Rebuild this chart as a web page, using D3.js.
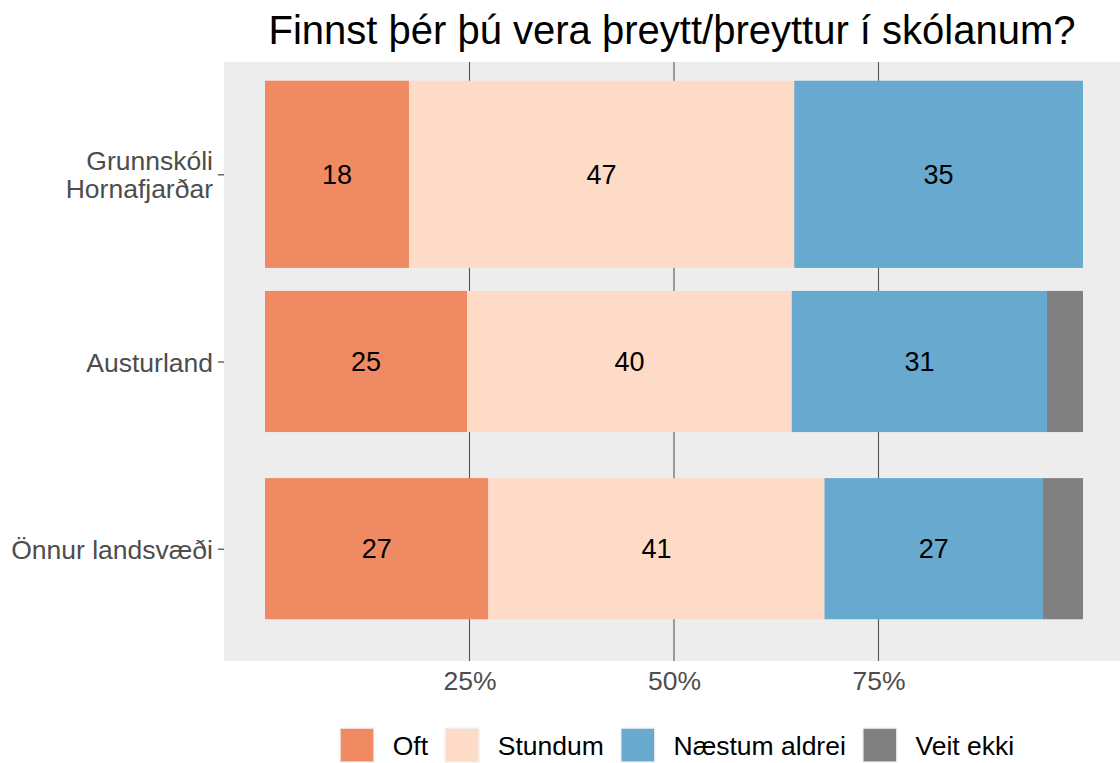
<!DOCTYPE html>
<html><head><meta charset="utf-8">
<script src="https://cdn.jsdelivr.net/npm/d3@7"></script>
<style>
body{margin:0;background:#fff}
svg{display:block}
text{font-family:"Liberation Sans",Arial,Helvetica,sans-serif}
</style>
</head><body>
<svg id="chart" width="1120" height="763"></svg>
<script>
// ---- data ----
const title = "Finnst þér þú vera þreytt/þreyttur í skólanum?";
const categories = ["Grunnskóli\nHornafjarðar", "Austurland", "Önnur landsvæði"];
const seriesNames = ["Oft", "Stundum", "Næstum aldrei", "Veit ekki"];
const oft      = [17.6, 24.7, 27.3];
const stundum  = [47.1, 39.7, 41.1];
const naestum  = [35.3, 31.2, 26.7];
const veitEkki = [0.0, 4.4, 4.9];
const barWidths = [1.0, 0.754, 0.754];
const xTicks = [25, 50, 75];
const xTickLabels = ["25%", "50%", "75%"];
const colors = ["#EF8A62", "#FDDBC7", "#67A9CF", "#808080"];

// ---- build table ----
const keys = seriesNames;
const table = categories.map((c, i) => ({
  cat: c, idx: i + 1, w: barWidths[i],
  "Oft": oft[i], "Stundum": stundum[i], "Næstum aldrei": naestum[i], "Veit ekki": veitEkki[i]
}));

const svg = d3.select("#chart");
const P = {x0: 224, x1: 1120, y0: 62, y1: 661};

const x = d3.scaleLinear().domain([0, 100]).range([265, 1083]);
const y = d3.scaleLinear().domain([0.4, 3.6]).range([P.y0, P.y1]);
const color = d3.scaleOrdinal().domain(keys).range(colors);

// panel
svg.append("rect").attr("x", P.x0).attr("y", P.y0)
  .attr("width", P.x1 - P.x0).attr("height", P.y1 - P.y0).attr("fill", "#EDEDED");

// grid
svg.append("g").selectAll("line").data(xTicks).join("line")
  .attr("x1", d => x(d)).attr("x2", d => x(d))
  .attr("y1", P.y0).attr("y2", P.y1)
  .attr("stroke", "#555555").attr("stroke-width", 1.1);

// stacked bars
const stacked = d3.stack().keys(keys)(table);
const gBars = svg.append("g");
stacked.forEach(layer => {
  gBars.append("g").attr("fill", color(layer.key))
    .selectAll("rect").data(layer).join("rect")
    .attr("x", d => x(d[0]))
    .attr("width", d => Math.max(0, x(d[1]) - x(d[0])))
    .attr("y", d => y(d.data.idx - d.data.w / 2))
    .attr("height", d => y(d.data.idx + d.data.w / 2) - y(d.data.idx - d.data.w / 2));
});

// labels
const gLab = svg.append("g").attr("font-size", 27).attr("fill", "#000").attr("text-anchor", "middle");
stacked.forEach(layer => {
  gLab.selectAll(null).data(layer.filter(d => (d[1] - d[0]) >= 5)).join("text")
    .attr("x", d => x((d[0] + d[1]) / 2))
    .attr("y", d => y(d.data.idx))
    .attr("dy", "0.36em")
    .text(d => Math.round(d[1] - d[0]));
});

// y axis
const yAxis = d3.axisLeft(y).tickValues([1, 2, 3]).tickFormat(v => categories[v - 1]).tickSize(6).tickPadding(5);
const gy = svg.append("g").attr("transform", `translate(${P.x0},0)`).call(yAxis);
gy.select(".domain").remove();
gy.selectAll(".tick line").attr("stroke", "#333333").attr("stroke-width", 1.1);
gy.selectAll(".tick text").attr("font-size", 26.5).attr("fill", "#4D4D4D")
  .attr("font-family", '"Liberation Sans",Arial,sans-serif')
  .each(function(d) {
    const lines = categories[d - 1].split("\n");
    const t = d3.select(this);
    t.text(null).attr("dy", null);
    const lh = 28;
    const start = -((lines.length - 1) * lh) / 2 + 9.5;
    lines.forEach((ln, k) => {
      t.append("tspan").attr("x", -11).attr("y", start + k * lh).text(ln);
    });
  });

// x axis
const xAxis = d3.axisBottom(x).tickValues(xTicks).tickFormat((v, i) => xTickLabels[i]).tickSize(0).tickPadding(10);
const gx = svg.append("g").attr("transform", `translate(0,${P.y1})`).call(xAxis);
gx.select(".domain").remove();
gx.selectAll(".tick text").attr("font-size", 26.5).attr("fill", "#4D4D4D")
  .attr("font-family", '"Liberation Sans",Arial,sans-serif');

// title
svg.append("text").attr("x", (P.x0 + P.x1) / 2).attr("y", 44)
  .attr("text-anchor", "middle").attr("font-size", 40).attr("fill", "#000")
  .text(title);

// legend
const gLeg = svg.append("g");
const keyS = 32.6, keyGap = 19.4, itemGap = 17.7;
let cx = 0;
keys.forEach(k => {
  const g = gLeg.append("g");
  g.append("rect").attr("x", -1.3).attr("y", -1.3).attr("width", keyS + 2.6).attr("height", keyS + 2.6).attr("fill", "#F2F2F2");
  g.append("rect").attr("width", keyS).attr("height", keyS).attr("fill", color(k));
  const t = g.append("text").attr("x", keyS + keyGap).attr("y", keyS / 2).attr("dy", "0.36em")
    .attr("font-size", 26.5).attr("fill", "#000").text(k);
  const tw = t.node().getComputedTextLength();
  g.attr("transform", `translate(${cx},0)`);
  cx += keyS + keyGap + tw + itemGap;
});
gLeg.attr("transform", `translate(340.7,728.8)`);
</script>
</body></html>
